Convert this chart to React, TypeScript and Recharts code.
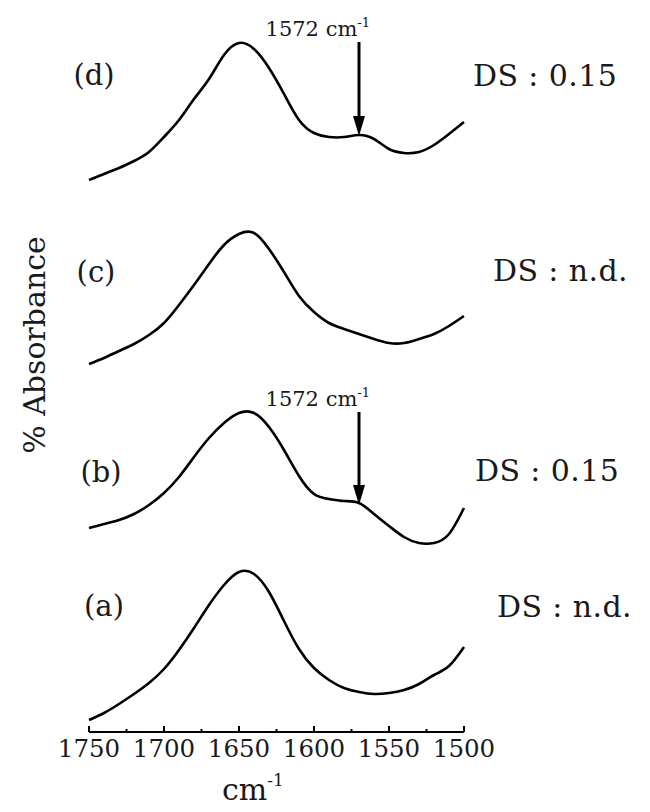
import { LineChart, Line, XAxis, YAxis, ReferenceLine } from "recharts";

// wavenumber grid (cm-1), read every 10 cm-1
const WAVENUMBERS = [
  1750, 1740, 1730, 1720, 1710, 1700, 1690, 1680, 1670, 1660, 1650, 1640, 1630,
  1620, 1610, 1600, 1590, 1580, 1570, 1560, 1550, 1540, 1530, 1520, 1510, 1500,
];

// traces as plotted (offset, arbitrary units)
const SPECTRUM_A = [
  0.12, 0.19, 0.28, 0.38, 0.49, 0.63, 0.82, 1.04, 1.27, 1.47, 1.6, 1.58, 1.4,
  1.11, 0.83, 0.64, 0.52, 0.44, 0.4, 0.38, 0.39, 0.42, 0.48, 0.57, 0.66, 0.85,
];
const SPECTRUM_B = [
  2.04, 2.08, 2.12, 2.18, 2.27, 2.39, 2.55, 2.75, 2.94, 3.09, 3.19, 3.19, 3.05,
  2.82, 2.56, 2.38, 2.33, 2.31, 2.29, 2.18, 2.06, 1.95, 1.89, 1.89, 1.98, 2.24,
];
const SPECTRUM_C = [
  3.68, 3.74, 3.81, 3.88, 3.97, 4.09, 4.27, 4.47, 4.68, 4.87, 4.98, 4.99, 4.83,
  4.6, 4.36, 4.2, 4.09, 4.03, 3.98, 3.93, 3.89, 3.89, 3.93, 3.98, 4.06, 4.16,
];
const SPECTRUM_D = [
  5.52, 5.58, 5.64, 5.71, 5.8, 5.95, 6.12, 6.33, 6.53, 6.77, 6.89, 6.83, 6.64,
  6.38, 6.12, 5.99, 5.95, 5.95, 5.97, 5.93, 5.83, 5.79, 5.8, 5.87, 5.98, 6.1,
];

const X_TICKS = [
  1750, 1725, 1700, 1675, 1650, 1625, 1600, 1575, 1550, 1525, 1500,
];

const SAMPLE_LABELS = ["(a)", "(b)", "(c)", "(d)"];
const DS_LABELS = ["DS : n.d.", "DS : 0.15", "DS : n.d.", "DS : 0.15"];

// 1572 cm-1 shoulder arrows on (b) and (d)
const ARROW_X = 1570;
const ARROWS = [
  { from: 3.2, to: 2.27 },
  { from: 6.9, to: 5.96 },
];

const rows = WAVENUMBERS.map((wn, i) => ({
  wn,
  a: SPECTRUM_A[i],
  b: SPECTRUM_B[i],
  c: SPECTRUM_C[i],
  d: SPECTRUM_D[i],
}));

const FONT = '"DejaVu Serif", "Liberation Serif", serif';
const INK = "#1a1a1a";

// label placement (page px) for (a)..(d) and DS texts
const SAMPLE_POS = [
  { x: 104, y: 606 },
  { x: 101, y: 472 },
  { x: 96, y: 272 },
  { x: 94, y: 75 },
];
const DS_POS = [
  { x: 497, y: 606 },
  { x: 475, y: 470 },
  { x: 493, y: 270 },
  { x: 473, y: 75 },
];

function WnTick(props: any) {
  const { x, y, payload } = props;
  const major = payload.value % 50 === 0;
  return (
    <g>
      <line
        x1={x}
        y1={y}
        x2={x}
        y2={y - (major ? 6 : 3)}
        stroke="#000"
        strokeWidth={2}
      />
      {major && (
        <text
          x={x}
          y={y + 25}
          textAnchor="middle"
          fontFamily={FONT}
          fontSize={24.5}
          fill={INK}
        >
          {payload.value}
        </text>
      )}
    </g>
  );
}

function Arrow(props: any) {
  const { x1, y1, x2, y2 } = props;
  return (
    <g>
      <line x1={x1} y1={y1} x2={x2} y2={y2 - 14} stroke="#000" strokeWidth={3} />
      <polygon
        points={`${x2 - 6},${y2 - 20} ${x2 + 6},${y2 - 20} ${x2},${y2}`}
        fill="#000"
      />
      <text
        x={x1 + 11}
        y={y1 - 6}
        textAnchor="end"
        fontFamily={FONT}
        fontSize={21}
        fill={INK}
      >
        1572 cm
        <tspan dy={-9} fontSize={13}>
          -1
        </tspan>
      </text>
    </g>
  );
}

export default function App() {
  return (
    <div
      style={{
        position: "absolute",
        left: 0,
        top: 0,
        width: 650,
        height: 812,
        background: "#fff",
      }}
    >
      <LineChart
        width={650}
        height={812}
        data={rows}
        margin={{ top: 12, right: 186, bottom: 0, left: 0 }}
      >
        <XAxis
          dataKey="wn"
          type="number"
          domain={[1500, 1750]}
          reversed
          ticks={X_TICKS}
          interval={0}
          height={80}
          tickSize={0}
          tickMargin={0}
          tickLine={false}
          axisLine={{ stroke: "#000", strokeWidth: 2 }}
          tick={<WnTick />}
          label={{
            content: (p: any) => {
              const vb = p.viewBox;
              return (
                <text
                  x={vb.x + 133}
                  y={vb.y + 68}
                  fontFamily={FONT}
                  fontSize={30}
                  fill={INK}
                >
                  cm
                  <tspan dy={-14} fontSize={17}>
                    -1
                  </tspan>
                </text>
              );
            },
          }}
        />
        <YAxis
          type="number"
          domain={[0, 7.2]}
          width={89}
          axisLine={false}
          tickLine={false}
          tick={false}
          label={{
            content: (p: any) => {
              const vb = p.viewBox;
              const cx = 34;
              const cy = vb.y + vb.height / 2 - 27;
              return (
                <text
                  x={cx}
                  y={cy}
                  transform={`rotate(-90 ${cx} ${cy})`}
                  textAnchor="middle"
                  dominantBaseline="central"
                  fontFamily={FONT}
                  fontSize={30}
                  fill={INK}
                >
                  % Absorbance
                </text>
              );
            },
          }}
        />
        {(["a", "b", "c", "d"] as const).map((k) => (
          <Line
            key={k}
            dataKey={k}
            type="natural"
            stroke="#000"
            strokeWidth={2.6}
            dot={false}
            isAnimationActive={false}
          />
        ))}
        {ARROWS.map((a, i) => (
          <ReferenceLine
            key={i}
            segment={[
              { x: ARROW_X, y: a.from },
              { x: ARROW_X, y: a.to },
            ]}
            shape={<Arrow />}
          />
        ))}
      </LineChart>
      <svg
        width={650}
        height={812}
        style={{ position: "absolute", left: 0, top: 0, pointerEvents: "none" }}
      >
        {SAMPLE_LABELS.map((t, i) => (
          <text
            key={t}
            x={SAMPLE_POS[i].x}
            y={SAMPLE_POS[i].y}
            textAnchor="middle"
            dominantBaseline="central"
            fontFamily={FONT}
            fontSize={29}
            fill={INK}
          >
            {t}
          </text>
        ))}
        {DS_LABELS.map((t, i) => (
          <text
            key={i}
            x={DS_POS[i].x}
            y={DS_POS[i].y}
            dominantBaseline="central"
            fontFamily={FONT}
            fontSize={30}
            letterSpacing={0.4}
            fill={INK}
          >
            {t}
          </text>
        ))}
      </svg>
    </div>
  );
}
